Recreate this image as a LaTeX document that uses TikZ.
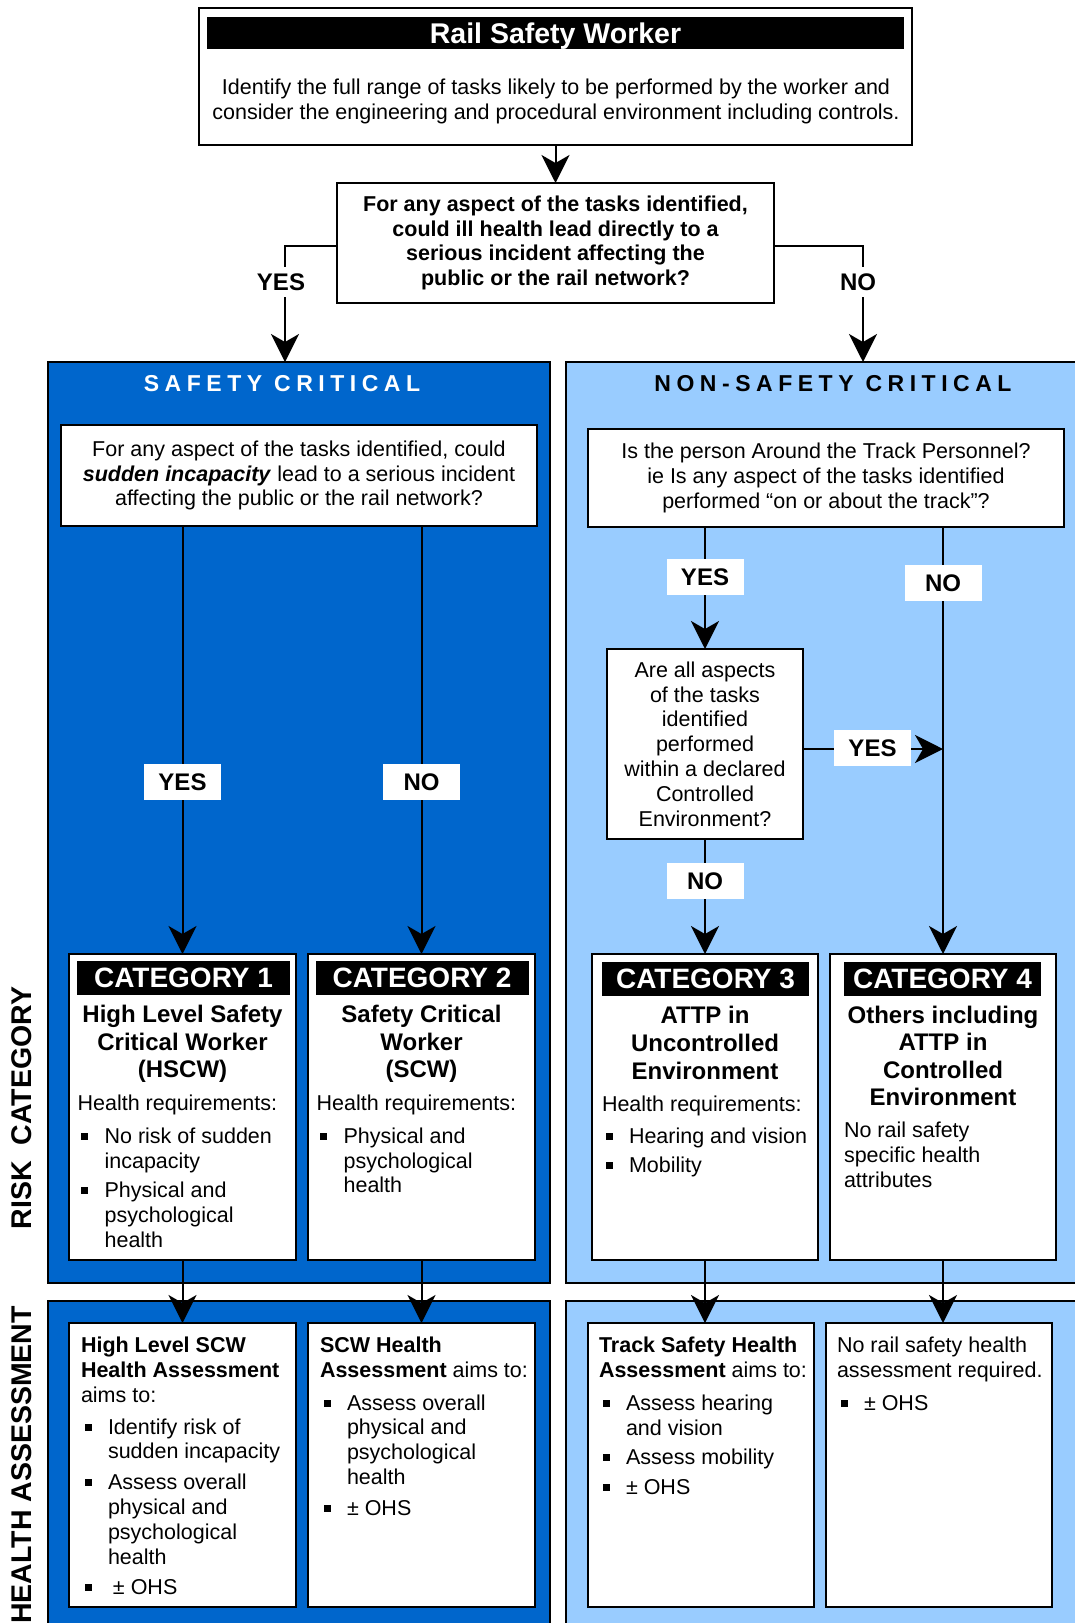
\documentclass[tikz,border=0pt]{standalone}
\usepackage{fontspec}
\setmainfont{Liberation Sans}
\usetikzlibrary{arrows.meta}
\definecolor{scblue}{RGB}{0,102,204}
\definecolor{nsblue}{RGB}{153,204,255}
\newcommand{\fsz}[2]{\fontsize{#1}{#2}\selectfont}
% square bullet and hanging indent used in the lists
\newcommand{\sqb}{\makebox[27pt][l]{\hspace*{3.5pt}\rule[3.5pt]{7pt}{7pt}}}
\newcommand{\ind}{\hspace*{27pt}}

\begin{document}
\begin{tikzpicture}[x=1pt,y=-1pt,
  every node/.style={inner sep=0pt,outer sep=0pt},
  panelA/.style={draw=black,line width=1.5pt,fill=scblue},
  panelB/.style={draw=black,line width=1.5pt,fill=nsblue},
  box/.style={draw=black,line width=2pt,fill=white},
  qtext/.style={font=\fsz{21.5}{24.8},align=center},
  conn/.style={line width=2pt,-{Stealth[length=28pt,width=28pt,inset=8pt]}},
  lbl/.style={fill=white,font=\fsz{24}{28}\bfseries,minimum width=77pt,minimum height=36pt},
  catbar/.style={fill=black,text=white,font=\fsz{28}{32}\bfseries,minimum height=34pt},
  cathead/.style={font=\fsz{24}{27.6}\bfseries,align=center},
  bodytext/.style={font=\fsz{21.5}{24.8},align=left,anchor=north west},
  sidetitle/.style={rotate=90,font=\fsz{28.5}{32}\bfseries},
  spaced/.style={font=\fsz{23}{27}\bfseries\addfontfeature{LetterSpace=24}},
]
\useasboundingbox (0,0) rectangle (1075,1623);
\clip (0,0) rectangle (1075,1623);

% ---- worker box -------------------------------------------------------
\node[box,line width=1.5pt,minimum width=713pt,minimum height=137pt] (top) at (555.5,76.5) {};
\node[fill=black,text=white,font=\fsz{28.5}{32}\bfseries,text depth=0pt,minimum width=697pt,minimum height=32pt] (toptitle) at (555.5,33) {Rail Safety Worker};
\node[qtext] (toptext) at (556,101.5) {Identify the full range of tasks likely to be performed by the worker and\\consider the engineering and procedural environment including controls.};

% ---- first question -----------------------------------------------------
\node[box,qtext,font=\fsz{21.5}{24.8}\bfseries,minimum width=437pt,minimum height=120pt] (dec) at (555.5,243)
  {For any aspect of the tasks identified,\\could ill health lead directly to a\\serious incident affecting the\\public or the rail network?};

% ---- panels ---------------------------------------------------------------
\node[panelA,minimum width=502pt,minimum height=921pt] (sc) at (299,822.5) {};
\node[panelB,minimum width=534pt,minimum height=921pt] (nsc) at (833,822.5) {};
\node[panelA,minimum width=502pt,minimum height=340pt] (sa) at (299,1471) {};
\node[panelB,minimum width=534pt,minimum height=340pt] (nsa) at (833,1471) {};

\node[spaced,text=white] (sctitle) at (282,384) {SAFETY CRITICAL};
\node[spaced] (nsctitle) at (833,384) {NON-SAFETY CRITICAL};

\node[sidetitle] (risk) at (22,1108) {RISK\ \ CATEGORY};
\node[sidetitle,anchor=east] (hlth) at (22,1306) {HEALTH ASSESSMENT};

\coordinate (scin) at (285,362);
\coordinate (nscin) at (863,362);

% ---- safety critical questions ----------------------------------------------
\node[box,qtext,minimum width=476pt,minimum height=101pt] (scq) at (299,475.5)
  {For any aspect of the tasks identified, could\\\textbf{\textit{sudden incapacity}} lead to a serious incident\\affecting the public or the rail network?};
\node[box,qtext,minimum width=476pt,minimum height=98pt] (nsq) at (826,478)
  {Is the person Around the Track Personnel?\\ie Is any aspect of the tasks identified\\performed “on or about the track”?};
\node[box,qtext,minimum width=196pt,minimum height=190pt] (aq) at (705,744)
  {Are all aspects\\of the tasks\\identified\\performed\\within a declared\\Controlled\\Environment?};

% ---- categories -------------------------------------------------------------
\node[box,minimum width=227pt,minimum height=306pt] (cat1) at (182.5,1107) {};
\node[box,minimum width=227pt,minimum height=306pt] (cat2) at (421.5,1107) {};
\node[box,minimum width=226pt,minimum height=306pt] (cat3) at (705,1107) {};
\node[box,minimum width=226pt,minimum height=306pt] (cat4) at (943,1107) {};

\node[catbar,minimum width=213pt] (cat1bar) at (183.5,977.5) {CATEGORY 1};
\node[catbar,minimum width=213pt] (cat2bar) at (422,977.5) {CATEGORY 2};
\node[catbar,minimum width=207pt] (cat3bar) at (705.5,978.5) {CATEGORY 3};
\node[catbar,minimum width=197pt] (cat4bar) at (942.5,978.5) {CATEGORY 4};

\node[cathead] (cat1head) at (182.5,1044) {High Level Safety\\Critical Worker\\(HSCW)};
\node[cathead] (cat2head) at (421.5,1044) {Safety Critical\\Worker\\(SCW)};
\node[cathead] (cat3head) at (705,1043) {ATTP in\\Uncontrolled\\Environment};
\node[cathead] (cat4head) at (943,1056) {Others including\\ATTP in\\Controlled\\Environment};

\node[bodytext] (cat1body) at (77.6,1095) {Health requirements:\\[8pt]%
\sqb No risk of sudden\\%
\ind incapacity\\[5pt]%
\sqb Physical and\\%
\ind psychological\\%
\ind health};
\node[bodytext] (cat2body) at (316.6,1095) {Health requirements:\\[8pt]%
\sqb Physical and\\%
\ind psychological\\%
\ind health};
\node[bodytext] (cat3body) at (602,1096) {Health requirements:\\[7pt]%
\sqb Hearing and vision\\[4pt]%
\sqb Mobility};
\node[bodytext] (cat4body) at (844,1122) {No rail safety\\specific health\\attributes};

% ---- health assessments -----------------------------------------------------
\node[box,minimum width=227pt,minimum height=284pt] (ha1) at (182.5,1465) {};
\node[box,minimum width=227pt,minimum height=284pt] (ha2) at (421.5,1465) {};
\node[box,minimum width=226pt,minimum height=284pt] (ha3) at (701,1465) {};
\node[box,minimum width=226pt,minimum height=284pt] (ha4) at (939,1465) {};

\node[bodytext] (ha1text) at (81,1337) {\textbf{High Level SCW}\\%
\textbf{Health Assessment}\\%
aims to:\\[7pt]%
\sqb Identify risk of\\%
\ind sudden incapacity\\[6pt]%
\sqb Assess overall\\%
\ind physical and\\%
\ind psychological\\%
\ind health\\[6pt]%
\sqb\hspace*{5pt}± OHS};
\node[bodytext] (ha2text) at (320,1337) {\textbf{SCW Health}\\%
\textbf{Assessment} aims to:\\[8pt]%
\sqb Assess overall\\%
\ind physical and\\%
\ind psychological\\%
\ind health\\[6pt]%
\sqb ± OHS};
\node[bodytext] (ha3text) at (599,1337) {\textbf{Track Safety Health}\\%
\textbf{Assessment} aims to:\\[8pt]%
\sqb Assess hearing\\%
\ind and vision\\[5pt]%
\sqb Assess mobility\\[5pt]%
\sqb ± OHS};
\node[bodytext] (ha4text) at (837,1337) {No rail safety health\\%
assessment required.\\[8pt]%
\sqb ± OHS};

% ---- connectors ---------------------------------------------------------------
\draw[conn] (top.south) -- (dec.north);
\draw[conn] ([yshift=-3pt]dec.west) -| (scin);
\draw[conn] ([yshift=-3pt]dec.east) -| (nscin);

\draw[conn] (scq.south -| cat1.north) -- (cat1.north);
\draw[conn] (scq.south -| cat2.north) -- (cat2.north);

\draw[conn] (nsq.south -| aq.north) -- (aq.north);
\draw[conn] (aq.south) -- (cat3.north);
\draw[conn] (nsq.south -| cat4.north) -- (cat4.north);
\draw[conn] ([yshift=-5pt]aq.east) -- ([yshift=-5pt]aq.east -| cat4.north);

\draw[conn] (cat1.south) -- (ha1.north);
\draw[conn] (cat2.south) -- (ha2.north);
\draw[conn] (cat3.south) -- (cat3.south |- ha3.north);
\draw[conn] (cat4.south) -- (cat4.south |- ha4.north);

% ---- branch labels --------------------------------------------------------------
\node[lbl,minimum height=30pt] (yes0) at (281,282) {YES};
\node[lbl,minimum height=30pt] (no0) at (858,282) {NO};
\node[lbl] (yes1) at (182.5,782) {YES};
\node[lbl] (no1) at (421.5,782) {NO};
\node[lbl] (yes2) at (705,577) {YES};
\node[lbl] (no2) at (943,583) {NO};
\node[lbl] (yes3) at (872.5,748) {YES};
\node[lbl] (no3) at (705,881) {NO};
\end{tikzpicture}
\end{document}
